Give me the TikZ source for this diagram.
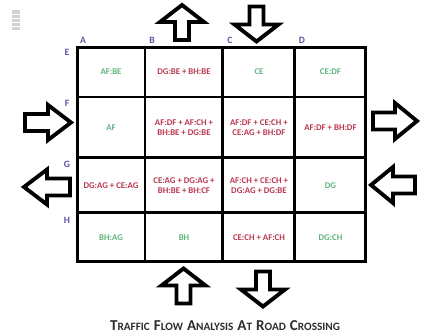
\documentclass[tikz,border=0pt]{standalone}
\usepackage{fontspec}
\setmainfont{Carlito}
\usepackage{xcolor}
\usetikzlibrary{positioning}

\definecolor{okgreen}{RGB}{95,180,125}
\definecolor{mixred}{RGB}{185,55,80}
\definecolor{lblblue}{RGB}{85,85,165}
\definecolor{titlegray}{RGB}{45,45,45}

% fake small caps for the title
\newcommand{\fsc}[2]{{\fontsize{8.6}{9}\selectfont #1}{\fontsize{6.4}{7}\selectfont #2}}

\begin{document}
\begin{tikzpicture}[
  x=0.02cm, y=-0.02cm,
  cell/.style={draw, line width=1.7pt, outer sep=0pt, inner sep=1pt, align=center, font=\fontsize{5}{6}\selectfont\bfseries},
  ok/.style={text=okgreen},
  mix/.style={text=mixred},
  colA/.style={minimum width=1.36cm}, colB/.style={minimum width=1.56cm},
  colC/.style={minimum width=1.44cm}, colD/.style={minimum width=1.42cm},
  rowE/.style={minimum height=1.0cm}, rowF/.style={minimum height=1.22cm},
  rowG/.style={minimum height=1.1cm}, rowH/.style={minimum height=0.98cm},
  lbl/.style={text=lblblue, font=\fontsize{5.5}{6}\selectfont\bfseries, inner sep=0pt},
  arrowline/.style={draw, line width=2.2pt, line join=miter},
  pics/bigarrow/.style n args={4}{code={
    \draw[arrowline] (0,{-#1/2}) -- (#2,{-#1/2+#4}) -- (#3,{-#1/2+#4}) -- (#3,{#1/2})
      -- (-#3,{#1/2}) -- (-#3,{-#1/2+#4}) -- (-#2,{-#1/2+#4}) -- cycle;
  }}
]
\useasboundingbox (0,0) rectangle (422,335);

% scan mark in the corner
\fill[gray!35] (12,10) rectangle (20,30);
\foreach \yy in {14,18,22,26}
  \draw[white, line width=0.4pt] (12,\yy) -- (20,\yy);

% grid of crossing cells
\node[cell, colA, rowE, ok] (AE) at (111,72) {AF:BE};
\node[cell, colB, rowE, mix, right=0pt of AE] (BE) {DG:BE + BH:BE};
\node[cell, colC, rowE, ok, right=0pt of BE] (CE) {CE};
\node[cell, colD, rowE, ok, right=0pt of CE] (DE) {CE:DF};

\node[cell, colA, rowF, ok, below=0pt of AE] (AF) {AF};
\node[cell, colB, rowF, mix, right=0pt of AF] (BF) {AF:DF + AF:CH +\\BH:BE + DG:BE};
\node[cell, colC, rowF, mix, right=0pt of BF] (CF) {AF:DF + CE:CH +\\CE:AG + BH:DF};
\node[cell, colD, rowF, mix, right=0pt of CF] (DF) {AF:DF + BH:DF};

\node[cell, colA, rowG, mix, below=0pt of AF] (AG) {DG:AG + CE:AG};
\node[cell, colB, rowG, mix, right=0pt of AG] (BG) {CE:AG + DG:AG +\\BH:BE + BH:CF};
\node[cell, colC, rowG, mix, right=0pt of BG] (CG) {AF:CH + CE:CH +\\DG:AG + DG:BE};
\node[cell, colD, rowG, ok, right=0pt of CG] (DG) {DG};

\node[cell, colA, rowH, ok, below=0pt of AG] (AH) {BH:AG};
\node[cell, colB, rowH, ok, right=0pt of AH] (BH) {BH};
\node[cell, colC, rowH, mix, right=0pt of BH] (CH) {CE:CH + AF:CH};
\node[cell, colD, rowH, ok, right=0pt of CH] (DH) {DG:CH};

% road labels
\node[lbl] (lA) at (83,40) {A};
\node[lbl] (lB) at (152,40) {B};
\node[lbl] (lC) at (230,40) {C};
\node[lbl] (lD) at (302,40) {D};
\node[lbl] (lE) at (67,52) {E};
\node[lbl] (lF) at (67,103) {F};
\node[lbl] (lG) at (67,164) {G};
\node[lbl] (lH) at (67,220) {H};

% traffic arrows
\pic at (182,22.5) {bigarrow={35}{22}{7}{17}};
\pic[rotate=180] at (256.5,24) {bigarrow={35}{22}{7}{17}};
\pic at (183.5,286) {bigarrow={35}{22}{7}{17}};
\pic[rotate=180] at (263,289) {bigarrow={35}{22}{7}{17}};
\pic[rotate=-90] at (48,122.5) {bigarrow={46}{17.5}{8.5}{23}};
\pic[rotate=90] at (47,187) {bigarrow={46}{17.5}{8.5}{23}};
\pic[rotate=-90] at (395,121) {bigarrow={44}{18}{8.5}{22}};
\pic[rotate=90] at (393,185) {bigarrow={44}{18}{8.5}{22}};

\node[text=titlegray, font=\bfseries] (title) at (225,326)
  {\fsc{T}{RAFFIC} \fsc{F}{LOW} \fsc{A}{NALYSIS} \fsc{A}{T} \fsc{R}{OAD} \fsc{C}{ROSSING}};
\end{tikzpicture}
\end{document}
